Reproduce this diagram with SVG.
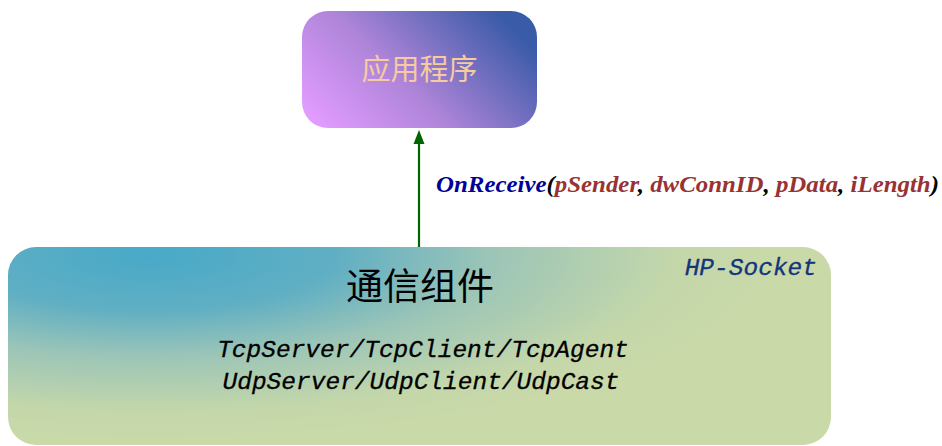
<svg xmlns="http://www.w3.org/2000/svg" width="942" height="446" viewBox="0 0 942 446">
<defs>
<linearGradient id="gApp" x1="0" y1="0.85" x2="1" y2="0.35">
<stop offset="0" stop-color="#e29cff"/>
<stop offset="0.45" stop-color="#ad84d8"/>
<stop offset="1" stop-color="#3a5ba8"/>
</linearGradient>
<radialGradient id="gComp" gradientUnits="userSpaceOnUse" cx="0" cy="0" r="1" gradientTransform="translate(150,255) scale(620,185)">
<stop offset="0" stop-color="#48a9c8"/>
<stop offset="0.3" stop-color="#60afc3"/>
<stop offset="0.55" stop-color="#9cc5b7"/>
<stop offset="0.85" stop-color="#c4d7aa"/>
<stop offset="1" stop-color="#c9d9a8"/>
</radialGradient>
<style>
.cjk{font-family:"Noto Sans CJK SC","Liberation Serif",serif;}
.mono{font-family:"Liberation Mono","DejaVu Sans Mono",monospace;font-style:italic;font-size:24.5px;}
.lbl{font-family:"Liberation Serif","Times New Roman",serif;font-style:italic;font-weight:bold;font-size:23px;}
.fn{fill:#000099;}
.par{fill:#993333;}
</style>
</defs>
<g id="connectors">
<line x1="419" y1="247" x2="419" y2="140" stroke="#006400" stroke-width="2.2"/>
<polygon points="419,130 424.5,144 413.5,144" fill="#006400"/>
<text class="lbl" x="436" y="192" textLength="503" lengthAdjust="spacingAndGlyphs"><tspan class="fn">OnReceive</tspan><tspan fill="#000">(</tspan><tspan class="par">pSender</tspan><tspan fill="#000">, </tspan><tspan class="par">dwConnID</tspan><tspan fill="#000">, </tspan><tspan class="par">pData</tspan><tspan fill="#000">, </tspan><tspan class="par">iLength</tspan><tspan fill="#000">)</tspan></text>
</g>
<g id="app">
<rect x="302" y="11" width="235" height="117" rx="26" ry="26" fill="url(#gApp)"/>
<text class="cjk" x="419.5" y="80" font-size="29" fill="#f7caa0" text-anchor="middle">应用程序</text>
</g>
<g id="comp">
<rect x="8" y="247" width="823" height="198" rx="28" ry="28" fill="url(#gComp)"/>
<text class="cjk" x="420" y="300" font-size="37" fill="#000" text-anchor="middle">通信组件</text>
<text class="mono" x="423" y="357" fill="#000" text-anchor="middle" stroke="#000" stroke-width="0.3">TcpServer/TcpClient/TcpAgent</text>
<text class="mono" x="421" y="389" fill="#000" text-anchor="middle" stroke="#000" stroke-width="0.3">UdpServer/UdpClient/UdpCast</text>
<text class="mono" x="817" y="275" fill="#15357a" text-anchor="end" stroke="#15357a" stroke-width="0.3">HP-Socket</text>
</g>
</svg>
